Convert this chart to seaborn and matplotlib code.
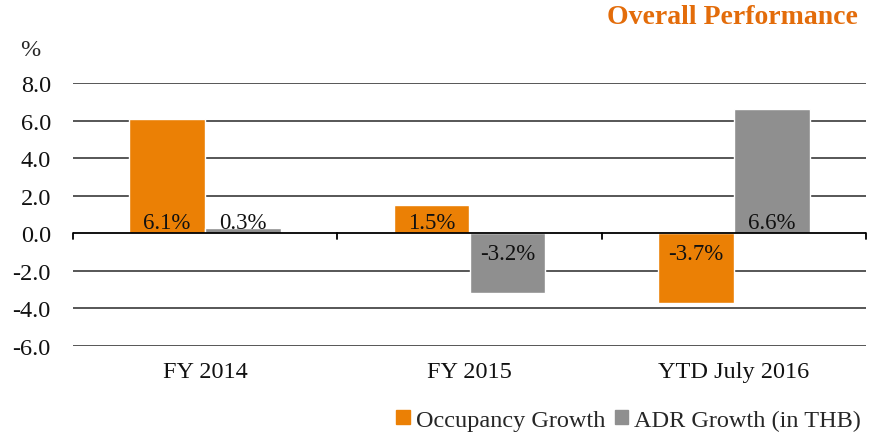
import pandas as pd
import matplotlib
matplotlib.use("Agg")
import matplotlib.pyplot as plt
import seaborn as sns
from matplotlib.patches import Patch

# === Dati ===
categories = ["FY 2014", "FY 2015", "YTD July 2016"]
occupancy_growth = [6.1, 1.5, -3.7]
adr_growth = [0.3, -3.2, 6.6]
series_names = ["Occupancy Growth", "ADR Growth (in THB)"]
colors = ["#EB8005", "#8F8F8F"]

df = pd.DataFrame({
    "period": categories * 2,
    "series": [series_names[0]] * 3 + [series_names[1]] * 3,
    "value": occupancy_growth + adr_growth,
})

sns.set_style("white")
plt.rcParams["font.family"] = ["Liberation Serif", "DejaVu Serif"]

fig = plt.figure(figsize=(8.76, 4.39), dpi=100)
ax = fig.add_axes([73 / 876, 1 - 347 / 439, (866 - 73) / 876, (347 - 84) / 439])

sns.barplot(data=df, x="period", y="value", hue="series", palette=colors,
            width=0.575, saturation=1, ax=ax, legend=False, zorder=3)

ax.set_ylim(-6, 8)
ax.set_xlim(-0.5, 2.5)
ax.set_yticks(range(-6, 9, 2))
ax.set_yticklabels([f"{v:.1f}" for v in range(-6, 9, 2)], fontsize=17.5, color="#111111")
ax.tick_params(axis="y", length=0, pad=16)
ax.tick_params(axis="x", length=0, pad=11, labelsize=17.5, labelcolor="#111111")
ax.set_xlabel("")
ax.set_ylabel("")
for s in ax.spines.values():
    s.set_visible(False)
for v in range(-6, 9, 2):
    if v != 0:
        ax.axhline(v, color="#3a3a3a", lw=1.2, zorder=1)
ax.axhline(0, color="black", lw=1.3, zorder=4)
for xb in [-0.5, 0.5, 1.5, 2.5]:
    ax.plot([xb, xb], [0, -0.3], color="black", lw=1.3, zorder=4, clip_on=False)

# etichette "inside base"
for cont in ax.containers:
    for bar in cont:
        h = bar.get_height()
        x = bar.get_x() + bar.get_width() / 2
        va = "bottom" if h >= 0 else "top"
        off = 0.0 if h >= 0 else -0.5
        ax.text(x, off, f"{h:.1f}%", ha="center", va=va, fontsize=16.5,
                color="#111111", zorder=5)

fig.text(20 / 876, 1 - 51 / 439, "%", fontsize=17.5, va="center", ha="left")
fig.text(858 / 876, 1 - 18 / 439, "Overall Performance", fontsize=20, fontweight="bold",
         color="#E36C0A", ha="right", va="center")

handles = [Patch(color=c, label=n) for c, n in zip(colors, series_names)]
fig.legend(handles=handles, loc="center right", bbox_to_anchor=(871 / 876, 1 - 421 / 439),
           ncol=2, frameon=False, fontsize=17.5, handlelength=0.55, handleheight=0.55,
           handletextpad=0.25, columnspacing=0.4, borderaxespad=0)

fig.savefig("out.png", dpi=100)
